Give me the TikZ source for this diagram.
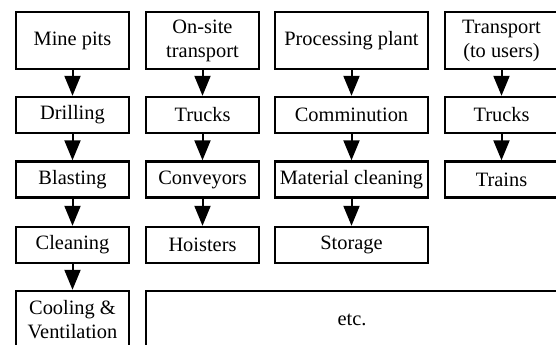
\documentclass[tikz,border=0pt]{standalone}
\usepackage{fontspec}
\setmainfont{Liberation Serif}
\newfontfamily\boxfont{Liberation Serif}
\usetikzlibrary{arrows.meta}
\begin{document}
\begin{tikzpicture}[x=0.5pt,y=-0.5pt,
  box/.style={draw,line width=1.2pt,inner sep=1pt,align=center,minimum height=18pt,
    font=\boxfont\fontsize{10.2}{12}\selectfont},
  flow/.style={line width=1pt,-{Triangle[width=8pt,length=10pt]}}]
  \useasboundingbox (0,0) rectangle (556,344);
  \clip (0,0) rectangle (556,344);
  % Mine pits
  \node[box,minimum width=56.5pt,minimum height=28.5pt] (pits) at (72.5,40.5) {Mine pits};
  \node[box,minimum width=56.5pt] (drill) at (72.5,115) {Drilling};
  \node[box,minimum width=56.5pt] (blast) at (72.5,179.5) {Blasting};
  \node[box,minimum width=56.5pt] (clean) at (72.5,245) {Cleaning};
  \node[box,minimum width=56.5pt,minimum height=29pt] (cool) at (72.5,320) {Cooling \&\\Ventilation};
  \draw[flow] (pits) -- (drill);
  \draw[flow] (drill) -- (blast);
  \draw[flow] (blast) -- (clean);
  \draw[flow] (clean) -- (cool);
  % On-site transport
  \node[box,minimum width=56.5pt,minimum height=28.5pt] (onsite) at (202.5,40.5) {On-site\\transport};
  \node[box,minimum width=56.5pt] (trucks) at (202.5,115) {Trucks};
  \node[box,minimum width=56.5pt] (conv) at (202.5,179.5) {Conveyors};
  \node[box,minimum width=56.5pt] (hoist) at (202.5,245) {Hoisters};
  \draw[flow] (onsite) -- (trucks);
  \draw[flow] (trucks) -- (conv);
  \draw[flow] (conv) -- (hoist);
  % Processing plant
  \node[box,minimum width=76.5pt,minimum height=28.5pt] (plant) at (351.5,40.5) {Processing plant};
  \node[box,minimum width=76.5pt] (comm) at (351.5,115) {Comminution};
  \node[box,minimum width=76.5pt] (matclean) at (351.5,179.5) {Material cleaning};
  \node[box,minimum width=76.5pt] (store) at (351.5,245) {Storage};
  \draw[flow] (plant) -- (comm);
  \draw[flow] (comm) -- (matclean);
  \draw[flow] (matclean) -- (store);
  % Transport to users
  \node[box,minimum width=56.5pt,minimum height=28.5pt] (users) at (501.5,40.5) {Transport\\(to users)};
  \node[box,minimum width=56.5pt] (utrucks) at (501.5,115) {Trucks};
  \node[box,minimum width=56.5pt] (trains) at (501.5,179.5) {Trains};
  \draw[flow] (users) -- (utrucks);
  \draw[flow] (utrucks) -- (trains);
  % Others
  \node[box,minimum width=206pt,minimum height=29pt] (etc) at (352,320) {etc.};
\end{tikzpicture}
\end{document}
